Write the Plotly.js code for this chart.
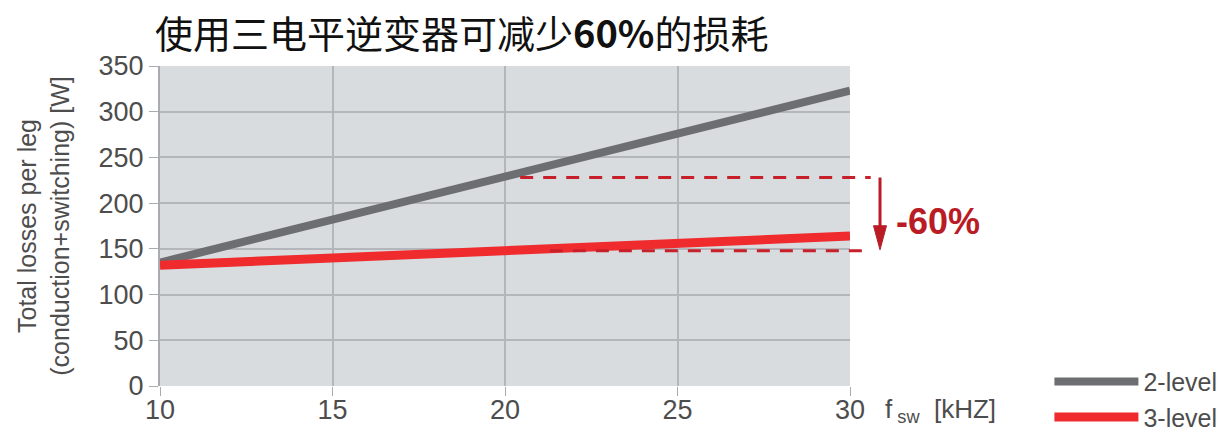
<!DOCTYPE html>
<html>
<head>
<meta charset="utf-8">
<script src="https://cdn.plot.ly/plotly-3.0.1.min.js"></script>
<style>html,body{margin:0;padding:0;background:#fff;}#chart{width:1231px;height:433px;}</style>
</head>
<body>
<div id="chart"></div>
<script>
// ---- data ----
var freqKHz = [10, 15, 20, 25, 30];
var losses2Level = [135, 182, 229, 276, 323];
var losses3Level = [132, 140, 149, 156, 164];
var seriesNames = ['2-level', '3-level'];
var markerFreq = 20;
var level2AtMarker = 228;
var level3AtMarker = 148;
var reductionLabel = '-60%';
var yTicks = [0, 50, 100, 150, 200, 250, 300, 350];
var xTicks = [10, 15, 20, 25, 30];
var titleText = '使用三电平逆变器可减少<b>60%</b>的损耗';
var yTitleText = 'Total losses per leg<br>(conduction+switching) [W]';
var xTitleText = 'f<sub> sw</sub>&nbsp;&nbsp;[kHZ]';

var FONT = 'Liberation Sans, Arial, sans-serif';
var TXT = '#4d4d4d';
var DARKRED = '#b91c24';

var traces = [
  {x: freqKHz, y: losses2Level, name: seriesNames[0], mode: 'lines',
   line: {color: '#6d6e71', width: 8}},
  {x: freqKHz, y: losses3Level, name: seriesNames[1], mode: 'lines',
   line: {color: '#ef2b2d', width: 9}}
];

// arrow geometry (paper x, data y)
var arrowX = 1.0435;
var headLenData = 24 / (320 / 350);
var headHalf = 6.5 / 690;
var tipY = level3AtMarker + 1;

var layout = {
  width: 1231, height: 433,
  margin: {l: 160, r: 381, t: 66, b: 47, autoexpand: false},
  paper_bgcolor: '#ffffff',
  plot_bgcolor: '#d8dcdf',
  font: {family: FONT, color: TXT, size: 26},
  title: {text: titleText, x: 155 / 1231, xref: 'container', xanchor: 'left',
          y: 1 - 35 / 433, yref: 'container', yanchor: 'middle',
          font: {family: 'Noto Sans CJK SC, sans-serif', size: 38, color: '#111'}},
  xaxis: {range: [10, 30], tickvals: xTicks, ticks: 'outside', ticklen: 9, tickcolor: '#a8acb0',
          ticklabelstandoff: -9,
          showgrid: true, gridcolor: '#b3b7bb', gridwidth: 2, zeroline: false, showline: false,
          tickfont: {size: 27, color: TXT, family: FONT}, fixedrange: true},
  yaxis: {range: [0, 350], tickvals: yTicks, ticks: 'outside', ticklen: 9, tickcolor: '#a8acb0',
          showgrid: true, gridcolor: '#b3b7bb', gridwidth: 2, zeroline: false,
          showline: true, linecolor: '#a8acb0', linewidth: 2,
          tickfont: {size: 27, color: TXT, family: FONT},
          title: {text: yTitleText, standoff: 22, font: {size: 25, color: TXT, family: FONT}}},
  showlegend: true,
  legend: {x: 1.289, y: 0.085, xanchor: 'left', yanchor: 'top', itemwidth: 84,
           font: {size: 25, color: TXT, family: FONT}, bgcolor: 'rgba(0,0,0,0)', tracegroupgap: 0},
  shapes: [
    {type: 'line', xref: 'x', yref: 'paper', x0: markerFreq, x1: markerFreq, y0: 0, y1: 1,
     line: {color: '#d8473c', width: 2}, layer: 'below'},
    {type: 'line', xref: 'paper', yref: 'y', x0: 0.522, x1: 1.03, y0: level2AtMarker, y1: level2AtMarker,
     line: {color: '#c8202a', width: 3, dash: '13px,10px'}},
    {type: 'line', xref: 'paper', yref: 'y', x0: 0.565, x1: 1.03, y0: level3AtMarker, y1: level3AtMarker,
     line: {color: '#c8202a', width: 3, dash: '13px,10px'}},
    {type: 'line', xref: 'paper', yref: 'y', x0: arrowX, x1: arrowX, y0: level2AtMarker, y1: tipY + headLenData * 0.8,
     line: {color: DARKRED, width: 3}},
    {type: 'path', xref: 'paper', yref: 'y',
     path: 'M' + (arrowX - headHalf) + ',' + (tipY + headLenData) + ' L' + (arrowX + headHalf) + ',' + (tipY + headLenData) +
           ' L' + arrowX + ',' + tipY + ' Z',
     fillcolor: DARKRED, line: {color: DARKRED, width: 1}}
  ],
  annotations: [
    {text: reductionLabel, xref: 'paper', yref: 'y', x: 1.064, y: (level2AtMarker + level3AtMarker) / 2 - 8,
     xanchor: 'left', yanchor: 'middle', showarrow: false,
     font: {size: 36, color: DARKRED, family: FONT, weight: 'bold'}},
    {text: xTitleText, xref: 'paper', yref: 'paper', x: 1.048, y: -0.075, xanchor: 'left', yanchor: 'middle',
     showarrow: false, font: {size: 26, color: TXT, family: FONT}}
  ]
};

Plotly.newPlot('chart', traces, layout, {staticPlot: true, displayModeBar: false});
</script>
</body>
</html>
